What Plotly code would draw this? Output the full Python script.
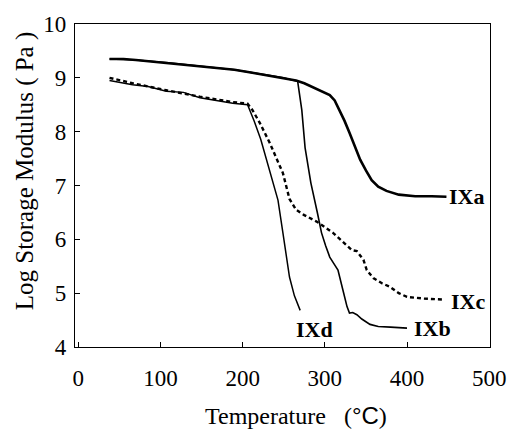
import plotly.graph_objects as go

# ---- data ----
IXa_T = [38, 55, 70, 90, 110, 130, 150, 170, 190, 210, 230, 250, 265, 275, 285, 295, 306, 312, 318, 324, 330, 337, 343, 350, 357, 365, 375, 390, 410, 430, 448]
IXa_y = [9.35, 9.35, 9.33, 9.30, 9.28, 9.25, 9.22, 9.18, 9.15, 9.10, 9.05, 9.00, 8.95, 8.90, 8.83, 8.77, 8.68, 8.58, 8.40, 8.20, 7.98, 7.72, 7.48, 7.28, 7.10, 6.98, 6.90, 6.83, 6.80, 6.80, 6.79]

IXb_T = [38, 70, 110, 150, 190, 230, 250, 267, 272, 276, 283, 291, 296, 301, 306, 311, 316, 322, 327, 330, 334, 339, 345, 355, 365, 380, 400]
IXb_y = [9.35, 9.33, 9.28, 9.22, 9.15, 9.05, 9.00, 8.93, 8.40, 7.70, 7.05, 6.49, 6.12, 5.88, 5.67, 5.55, 5.43, 5.06, 4.75, 4.63, 4.64, 4.60, 4.52, 4.42, 4.38, 4.37, 4.35]

IXc_T = [38, 66, 107, 148, 188, 206, 212, 221, 233, 249, 257, 265, 275, 290, 310, 325, 333, 339, 347, 351, 359, 370, 379, 390, 400, 420, 445]
IXc_y = [9.00, 8.90, 8.77, 8.65, 8.55, 8.52, 8.40, 8.16, 7.79, 7.23, 6.75, 6.55, 6.45, 6.33, 6.12, 5.90, 5.80, 5.78, 5.62, 5.43, 5.28, 5.18, 5.12, 5.00, 4.93, 4.90, 4.88]

IXd_T = [38, 66, 85, 107, 128, 148, 168, 188, 206, 210, 214, 222, 232, 243, 249, 257, 263, 270]
IXd_y = [8.95, 8.87, 8.84, 8.75, 8.73, 8.63, 8.58, 8.53, 8.50, 8.35, 8.20, 7.86, 7.32, 6.73, 6.12, 5.30, 4.95, 4.68]

x_ticks = [0, 100, 200, 300, 400, 500]
y_ticks = [4, 5, 6, 7, 8, 9, 10]

labels = ["IXa", "IXb", "IXc", "IXd"]
label_T = [449, 406, 451, 262]
label_y = [6.79, 4.35, 4.84, 4.33]

FONT = "Liberation Serif, Times New Roman, serif"

fig = go.Figure()
fig.add_trace(go.Scatter(x=IXa_T, y=IXa_y, mode="lines", line=dict(color="black", width=2.6), name="IXa"))
fig.add_trace(go.Scatter(x=IXb_T, y=IXb_y, mode="lines", line=dict(color="black", width=1.6), name="IXb"))
fig.add_trace(go.Scatter(x=IXc_T, y=IXc_y, mode="lines", line=dict(color="black", width=2.4, dash="4px,3px"), name="IXc"))
fig.add_trace(go.Scatter(x=IXd_T, y=IXd_y, mode="lines", line=dict(color="black", width=1.5), name="IXd"))

for t, xv, yv in zip(labels, label_T, label_y):
    fig.add_annotation(x=xv, y=yv, text="<b>" + t + "</b>", showarrow=False, xanchor="left", yanchor="middle",
                       font=dict(family=FONT, size=22, color="black"))

fig.add_annotation(xref="paper", yref="paper", x=0.533, y=-0.212,
                   text='Temperature\u00a0\u00a0\u00a0(<span style="font-family:Liberation Sans, Arial, sans-serif">°C</span>)',
                   showarrow=False, xanchor="center", yanchor="middle", font=dict(family=FONT, size=24, color="black"))
fig.add_annotation(xref="paper", yref="paper", x=-0.12, y=0.545, text="Log Storage Modulus ( Pa )", showarrow=False,
                   textangle=-90, xanchor="center", yanchor="middle", font=dict(family=FONT, size=25, color="black"))

axis_common = dict(showline=True, linecolor="black", linewidth=1.2, mirror=True, ticks="inside", ticklen=5,
                   tickcolor="black", tickwidth=1, showgrid=False, zeroline=False, automargin=False,
                   ticklabeloverflow="allow", tickfont=dict(family=FONT, size=23, color="black"))
fig.update_xaxes(range=[-4, 501], tickvals=x_ticks, ticklabelstandoff=10, **axis_common)
fig.update_yaxes(range=[4, 10], tickvals=y_ticks, ticklabelstandoff=3, **axis_common)

fig.update_layout(width=511, height=432, margin=dict(l=75, r=21, t=24, b=85),
                  paper_bgcolor="white", plot_bgcolor="white", showlegend=False,
                  font=dict(family=FONT, color="black"))
# remove the default 8px page margin so the 511x432 figure fills the window exactly
fig.write_html("out.html", config={"displayModeBar": False},
               post_script="document.body.style.margin='0';document.body.style.overflow='hidden';")
